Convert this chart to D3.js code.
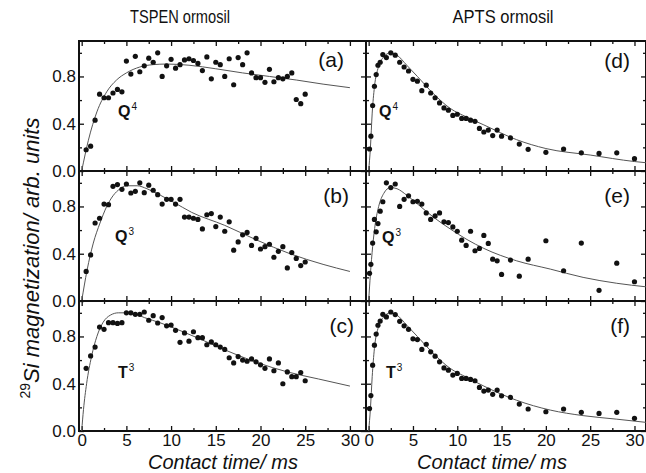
<!DOCTYPE html>
<html>
<head>
<meta charset="utf-8">
<script src="https://cdn.jsdelivr.net/npm/d3@7"></script>
<style>
  body { margin: 0; background: #fff; }
  text { font-family: 'Liberation Sans', Arial, sans-serif; fill: #111; }
  .axis path { display: none; }
  .axis line { stroke: #111; stroke-width: 1.3; }
  .axis text { font-size: 17px; }
</style>
</head>
<body>
<script>
//==============================================================================
// DATA
//==============================================================================

// contact times (ms)
const leftTime = [0.5, 1, 1.5, 2, 2.5, 3, 3.5, 4, 4.5, 5, 5.5, 6, 6.5, 7, 7.5, 8, 8.5, 9, 9.5, 10,
  10.5, 11, 11.5, 12, 12.5, 13, 13.5, 14, 14.5, 15, 15.5, 16, 16.5, 17, 17.5, 18, 18.5, 19, 19.5, 20,
  20.5, 21, 21.5, 22, 22.5, 23, 23.5, 24, 24.5, 25];
const rightTime = [0.1, 0.25, 0.45, 0.65, 0.85, 1.05, 1.3, 1.6, 2, 2.5, 3, 3.5, 4, 4.5, 5, 5.5, 6, 6.5,
  7, 7.5, 8, 8.5, 9, 9.5, 10, 10.5, 11, 11.5, 12, 12.5, 13, 13.5, 14, 14.5, 15, 16, 17, 18, 20, 22, 24, 26, 28, 30];

// TSPEN ormosil
const magA = [0.18, 0.21, 0.43, 0.65, 0.62, 0.62, 0.66, 0.69, 0.67, 0.93, 0.82, 0.97, 0.84, 0.89, 0.955, 0.92, 1.00, 0.80, 0.89, 0.945,
  0.87, 0.90, 0.94, 0.95, 0.935, 0.91, 0.85, 0.965, 0.78, 0.92, 0.90, 0.80, 0.95, 0.73, 0.96, 0.90, 1.00, 0.83, 0.79, 0.79,
  0.75, 0.86, 0.755, 0.79, 0.78, 0.80, 0.83, 0.605, 0.57, 0.65];
const magB = [0.25, 0.39, 0.66, 0.70, 0.82, 0.815, 0.97, 0.985, 0.945, 0.99, 0.914, 0.928, 1.00, 0.917, 0.98, 0.937, 0.90, 0.82, 0.86, 0.86,
  0.82, 0.86, 0.71, 0.71, 0.70, 0.69, 0.61, 0.73, 0.74, 0.63, 0.71, 0.59, 0.67, 0.43, 0.50, 0.56, 0.58, 0.47, 0.53, 0.44,
  0.46, 0.48, 0.37, 0.42, 0.46, 0.28, 0.41, 0.36, 0.30, 0.33];
const magC = [0.53, 0.635, 0.71, 0.88, 0.86, 0.917, 0.917, 0.91, 0.917, 1.00, 1.00, 0.987, 0.987, 1.007, 0.937, 0.976, 0.914, 0.96, 0.89, 0.897,
  0.852, 0.75, 0.83, 0.76, 0.84, 0.79, 0.79, 0.73, 0.754, 0.73, 0.71, 0.69, 0.62, 0.576, 0.63, 0.60, 0.59, 0.61, 0.585, 0.56,
  0.53, 0.61, 0.51, 0.576, 0.40, 0.50, 0.46, 0.46, 0.495, 0.425];

// APTS ormosil
const magD = [0.186, 0.295, 0.554, 0.717, 0.816, 0.895, 0.92, 0.985, 0.96, 1.00, 0.98, 0.92, 0.88, 0.846, 0.776, 0.76, 0.68, 0.726, 0.66, 0.62,
  0.576, 0.534, 0.515, 0.47, 0.48, 0.445, 0.445, 0.43, 0.42, 0.36, 0.33, 0.346, 0.30, 0.346, 0.295, 0.28, 0.228, 0.183, 0.158, 0.186,
  0.154, 0.149, 0.154, 0.104];
const magE = [0.234, 0.31, 0.49, 0.69, 0.585, 0.655, 0.76, 0.84, 1.00, 0.96, 0.99, 0.80, 0.86, 0.89, 0.84, 0.844, 0.82, 0.745, 0.69, 0.72,
  0.745, 0.67, 0.664, 0.627, 0.59, 0.515, 0.47, 0.59, 0.425, 0.445, 0.555, 0.487, 0.354, 0.34, 0.225, 0.346, 0.21, 0.354, 0.51, 0.256,
  0.49, 0.09, 0.32, 0.163];
const magF = [0.19, 0.30, 0.557, 0.726, 0.82, 0.895, 0.93, 0.987, 0.965, 1.007, 0.985, 0.928, 0.89, 0.86, 0.78, 0.774, 0.69, 0.734, 0.67, 0.633,
  0.585, 0.534, 0.515, 0.473, 0.487, 0.445, 0.445, 0.436, 0.425, 0.369, 0.338, 0.346, 0.31, 0.346, 0.298, 0.284, 0.228, 0.186, 0.163, 0.186,
  0.158, 0.149, 0.158, 0.107];

// fitted curves
const fitTimeA = [0, 0.75, 1.7, 2.8, 3.9, 5, 6.5, 8, 9.5, 12, 15, 18, 21, 24, 27, 30];
const fitA = [0, 0.26, 0.50, 0.67, 0.77, 0.83, 0.88, 0.90, 0.905, 0.895, 0.865, 0.83, 0.80, 0.77, 0.735, 0.705];
const fitTimeB = [0, 0.6, 1.3, 2.05, 2.8, 3.5, 4.3, 5, 6.2, 7.3, 8.8, 10.3, 12.3, 16, 19.6, 23.3, 27, 30];
const fitB = [0, 0.26, 0.49, 0.66, 0.80, 0.89, 0.95, 0.975, 0.975, 0.95, 0.895, 0.835, 0.75, 0.64, 0.515, 0.40, 0.31, 0.25];
const fitTimeC = [0, 0.2, 0.55, 1.1, 1.7, 2.4, 3.2, 4.1, 5, 6, 7, 8.8, 11, 13.2, 15.9, 19.6, 23, 26.5, 30];
const fitC = [0, 0.18, 0.40, 0.63, 0.80, 0.92, 0.98, 1.0, 1.0, 0.99, 0.96, 0.915, 0.85, 0.78, 0.69, 0.58, 0.50, 0.44, 0.38];
const fitTimeD = [0, 0.2, 0.4, 0.65, 1.1, 1.7, 2.45, 3.2, 4.3, 5.5, 7.3, 9.2, 11.1, 13, 16.7, 20, 25, 30, 31.3];
const fitD = [0, 0.2, 0.49, 0.71, 0.88, 0.965, 1.0, 0.98, 0.895, 0.80, 0.655, 0.53, 0.455, 0.39, 0.265, 0.19, 0.135, 0.08, 0.07];
const fitTimeE = [0, 0.2, 0.45, 0.75, 1.13, 1.7, 2.45, 3.2, 4.3, 5.45, 7.3, 9.2, 11.1, 13, 16.7, 20.5, 24.2, 28, 31.3];
const fitE = [0, 0.23, 0.46, 0.655, 0.80, 0.91, 0.96, 0.95, 0.895, 0.825, 0.71, 0.61, 0.52, 0.445, 0.34, 0.27, 0.20, 0.15, 0.12];
const fitTimeF = [0, 0.2, 0.4, 0.65, 1.1, 1.7, 2.45, 3.2, 4.3, 5.5, 7.3, 9.2, 11.1, 13, 16.7, 20.5, 24.2, 28, 31.3];
const fitF = [0, 0.19, 0.46, 0.70, 0.88, 0.965, 1.0, 0.98, 0.895, 0.80, 0.656, 0.53, 0.453, 0.38, 0.26, 0.177, 0.13, 0.10, 0.073];

// ticks and labels
const xTicks = [0, 5, 10, 15, 20, 25, 30];
const xMinorTicks = [2.5, 7.5, 12.5, 17.5, 22.5, 27.5];
const yTicks = [0, 0.4, 0.8];
const yMinorTicks = [0.2, 0.6, 1.0];
const columnTitles = ['TSPEN ormosil', 'APTS ormosil'];
const panelTags = ['(a)', '(b)', '(c)', '(d)', '(e)', '(f)'];
const species = [['Q', '4'], ['Q', '3'], ['T', '3'], ['Q', '4'], ['Q', '3'], ['T', '3']];

//==============================================================================
// PARAMETERS
//==============================================================================

const W = 646, H = 473;
const cols = [
  { x0: 79, x1: 366, domain: [-0.3, 31.8] },
  { x0: 366, x1: 646, domain: [-0.3, 31.3] }
];
const rows = [[41, 171], [171, 301], [301, 431]];

// label placement per panel
const tagPos = [[344, 67], [349, 203], [354, 333], [630, 68], [630, 203], [630, 333]];
const speciesPos = [[118, 117], [115, 242], [118, 378], [379, 117], [382, 243], [386, 378]];
const titlePos = [[180, 23], [503, 23]];
const xTitlePos = [[223, 469], [492, 469]];

const panels = [
  { col: 0, row: 0, t: leftTime, m: magA, ft: fitTimeA, f: fitA },
  { col: 0, row: 1, t: leftTime, m: magB, ft: fitTimeB, f: fitB },
  { col: 0, row: 2, t: leftTime, m: magC, ft: fitTimeC, f: fitC },
  { col: 1, row: 0, t: rightTime, m: magD, ft: fitTimeD, f: fitD },
  { col: 1, row: 1, t: rightTime, m: magE, ft: fitTimeE, f: fitE },
  { col: 1, row: 2, t: rightTime, m: magF, ft: fitTimeF, f: fitF }
];

const svg = d3.select('body').append('svg')
  .attr('width', W)
  .attr('height', H);

//==============================================================================
// DRAW
//==============================================================================

panels.forEach((p, i) => {
  const c = cols[p.col];
  const r = rows[p.row];
  const x = d3.scaleLinear().domain(c.domain).range([c.x0, c.x1]);
  const y = d3.scaleLinear().domain([0, 1.1]).range([r[1], r[0]]);

  const g = svg.append('g').attr('class', 'panel');

  // ticks on all four sides, pointing inward
  g.append('g').attr('class', 'axis')
    .attr('transform', `translate(0,${r[1]})`)
    .call(d3.axisBottom(x).tickValues(xTicks).tickSize(-5).tickPadding(3)
      .tickFormat(p.row === 2 ? d3.format('d') : ''));
  g.append('g').attr('class', 'axis')
    .attr('transform', `translate(0,${r[1]})`)
    .call(d3.axisBottom(x).tickValues(xMinorTicks).tickSize(-3).tickFormat(''));
  g.append('g').attr('class', 'axis')
    .attr('transform', `translate(0,${r[0]})`)
    .call(d3.axisTop(x).tickValues(xTicks).tickSize(-5).tickFormat(''));
  g.append('g').attr('class', 'axis')
    .attr('transform', `translate(0,${r[0]})`)
    .call(d3.axisTop(x).tickValues(xMinorTicks).tickSize(-3).tickFormat(''));

  g.append('g').attr('class', 'axis')
    .attr('transform', `translate(${c.x0},0)`)
    .call(d3.axisLeft(y).tickValues(yTicks).tickSize(-5).tickPadding(3)
      .tickFormat(p.col === 0 ? d3.format('.1f') : ''));
  g.append('g').attr('class', 'axis')
    .attr('transform', `translate(${c.x0},0)`)
    .call(d3.axisLeft(y).tickValues(yMinorTicks).tickSize(-3).tickFormat(''));
  g.append('g').attr('class', 'axis')
    .attr('transform', `translate(${c.x1},0)`)
    .call(d3.axisRight(y).tickValues(yTicks).tickSize(-5).tickFormat(''));
  g.append('g').attr('class', 'axis')
    .attr('transform', `translate(${c.x1},0)`)
    .call(d3.axisRight(y).tickValues(yMinorTicks).tickSize(-3).tickFormat(''));

  // frame
  g.append('rect')
    .attr('x', c.x0).attr('y', r[0])
    .attr('width', c.x1 - c.x0).attr('height', r[1] - r[0])
    .attr('fill', 'none').attr('stroke', '#111').attr('stroke-width', 2);

  // fitted curve
  const line = d3.line()
    .x(d => x(d[0]))
    .y(d => y(d[1]))
    .curve(d3.curveMonotoneX);
  g.append('path')
    .datum(p.ft.map((t, k) => [t, p.f[k]]))
    .attr('d', line)
    .attr('fill', 'none')
    .attr('stroke', '#555')
    .attr('stroke-width', 1);

  // measured points
  g.append('g')
    .selectAll('circle')
    .data(p.t.map((t, k) => [t, p.m[k]]))
    .enter()
    .append('circle')
    .attr('cx', d => x(d[0]))
    .attr('cy', d => y(d[1]))
    .attr('r', 2.6)
    .attr('fill', '#111');

  // panel tag
  g.append('text')
    .attr('x', tagPos[i][0]).attr('y', tagPos[i][1])
    .attr('text-anchor', 'end')
    .style('font-size', '21px')
    .text(panelTags[i]);

  // species label
  const s = g.append('text')
    .attr('x', speciesPos[i][0]).attr('y', speciesPos[i][1])
    .style('font-size', '16px')
    .style('font-weight', 'bold');
  s.append('tspan').text(species[i][0]);
  s.append('tspan').attr('dy', -7).attr('dx', 1)
    .style('font-size', '10px').style('font-weight', 'normal')
    .text(species[i][1]);
});

// column titles
columnTitles.forEach((t, i) => {
  svg.append('text')
    .attr('x', titlePos[i][0]).attr('y', titlePos[i][1])
    .attr('text-anchor', 'middle')
    .style('font-size', '18px')
    .attr('textLength', i === 0 ? 100 : 101)
    .attr('lengthAdjust', 'spacingAndGlyphs')
    .text(t);
});

// x titles
xTitlePos.forEach(pos => {
  svg.append('text')
    .attr('x', pos[0]).attr('y', pos[1])
    .attr('text-anchor', 'middle')
    .style('font-size', '20px')
    .style('font-style', 'italic')
    .text('Contact time/ ms');
});

// y title
const yt = svg.append('text')
  .attr('transform', 'translate(39,258) rotate(-90)')
  .attr('text-anchor', 'middle')
  .style('font-size', '22px')
  .style('font-style', 'italic');
yt.append('tspan').attr('dy', -9).style('font-size', '14px').style('font-style', 'normal').text('29');
yt.append('tspan').attr('dy', 9).text('Si magnetization/ arb. units');
</script>
</body>
</html>
